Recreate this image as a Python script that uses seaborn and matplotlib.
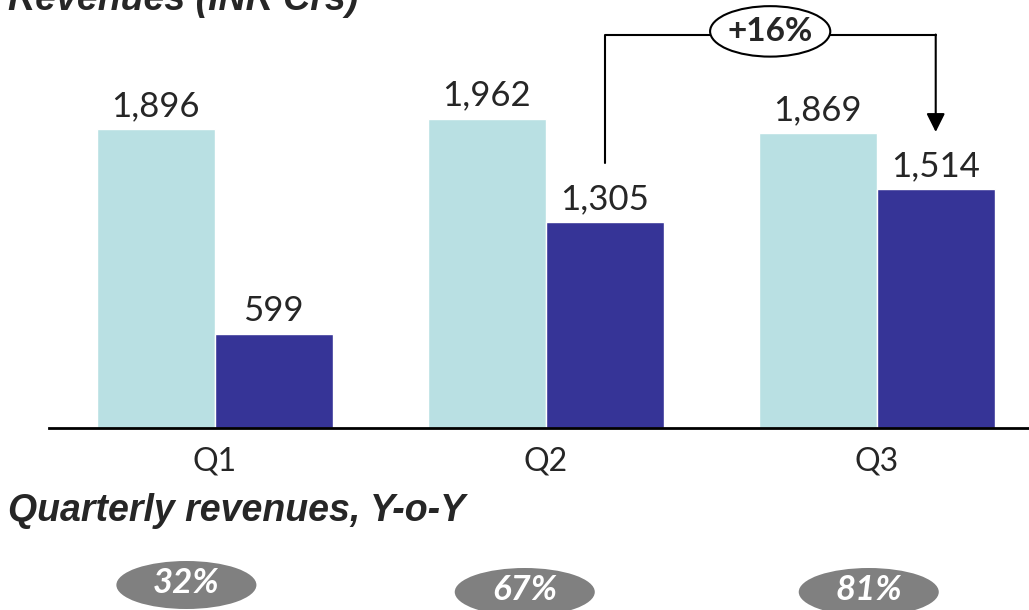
import numpy as np
import pandas as pd
import matplotlib
matplotlib.use('Agg')
import matplotlib.pyplot as plt
import matplotlib.transforms as mtransforms
from matplotlib.patches import Ellipse
import seaborn as sns

# chart data
quarters = ["Q1", "Q2", "Q3"]
prev_year = [1896, 1962, 1869]
curr_year = [599, 1305, 1514]
yoy_growth = ["32%", "67%", "81%"]
q2_q3_growth = "+16%"

LIGHT = "#b9e0e3"
DARK = "#363497"
GREY = "#808080"

df = pd.DataFrame({
    "Quarter": quarters * 2,
    "Series": ["Previous year"] * 3 + ["Current year"] * 3,
    "Revenue": prev_year + curr_year,
})

sns.set_style("white")
plt.rcParams['font.family'] = ['Lato', 'DejaVu Sans']

fig = plt.figure(figsize=(10.29, 6.10), dpi=100)
ax = fig.add_axes([49 / 1029, 182 / 610, 980 / 1029, 428 / 610])

bar_w = 0.713
sns.barplot(data=df, x="Quarter", y="Revenue", hue="Series",
            palette=[LIGHT, DARK], width=bar_w, saturation=1,
            legend=False, ax=ax)

ax.set_xlim(-0.5, 2.46)
ax.set_ylim(0, 2714)
ax.set_xlabel("")
ax.set_ylabel("")
ax.set_yticks([])
for s in ["top", "right", "left"]:
    ax.spines[s].set_visible(False)
ax.spines["bottom"].set_linewidth(2)
ax.spines["bottom"].set_color("black")
ax.tick_params(axis="x", length=0, pad=13, labelsize=23)

for cont in ax.containers:
    ax.bar_label(cont, labels=[f"{v:,.0f}" for v in cont.datavalues],
                 padding=5, fontsize=25)

# growth bracket from Q2 to Q3 (current year bars)
x2 = 1 + bar_w / 4
x3 = 2 + bar_w / 4
y_top = 2490
y_start = curr_year[1] + 375
y_end = curr_year[2] + 363
ell_x = (x2 + x3) / 2
ell_w = 0.363
ax.plot([x2, x2, ell_x - ell_w / 2], [y_start, y_top, y_top],
        color="black", lw=1.5, clip_on=False)
ax.plot([ell_x + ell_w / 2, x3], [y_top, y_top],
        color="black", lw=1.5, clip_on=False)
ax.annotate("", xy=(x3, y_end), xytext=(x3, y_top + 5),
            arrowprops=dict(arrowstyle="-|>", lw=1.5, color="black",
                            mutation_scale=28, shrinkA=0, shrinkB=0),
            annotation_clip=False)
ax.add_patch(Ellipse((ell_x, y_top + 25), ell_w, 320, facecolor="white",
                     edgecolor="black", lw=1.5, clip_on=False))
ax.text(ell_x, y_top + 25, q2_q3_growth, ha="center", va="center",
        fontsize=24, fontweight="bold")

# titles
fig.text(8 / 1029, 1 - 10 / 610, "Revenues (INR Crs)", fontsize=27,
         fontweight="bold", style="italic", family="Liberation Sans",
         va="baseline")
fig.text(8 / 1029, 1 - 521 / 610, "Quarterly revenues, Y-o-Y", fontsize=27,
         fontweight="bold", style="italic", family="Liberation Sans",
         va="baseline")

# y-o-y growth bubbles
trans = mtransforms.blended_transform_factory(ax.transData, fig.transFigure)
bubble_dx = [-0.085, -0.063, -0.024]
bubble_y = [1 - 585 / 610, 1 - 592 / 610, 1 - 592 / 610]
for i, lab in enumerate(yoy_growth):
    cx = i + bubble_dx[i]
    ax.add_patch(Ellipse((cx, bubble_y[i]), 0.423, 48 / 610, transform=trans,
                         facecolor=GREY, edgecolor="none", clip_on=False))
    ax.text(cx, bubble_y[i] + 0.003, lab, transform=trans, ha="center",
            va="center", color="white", fontsize=25, fontweight="bold",
            style="italic")

fig.savefig("out.png", dpi=100)
